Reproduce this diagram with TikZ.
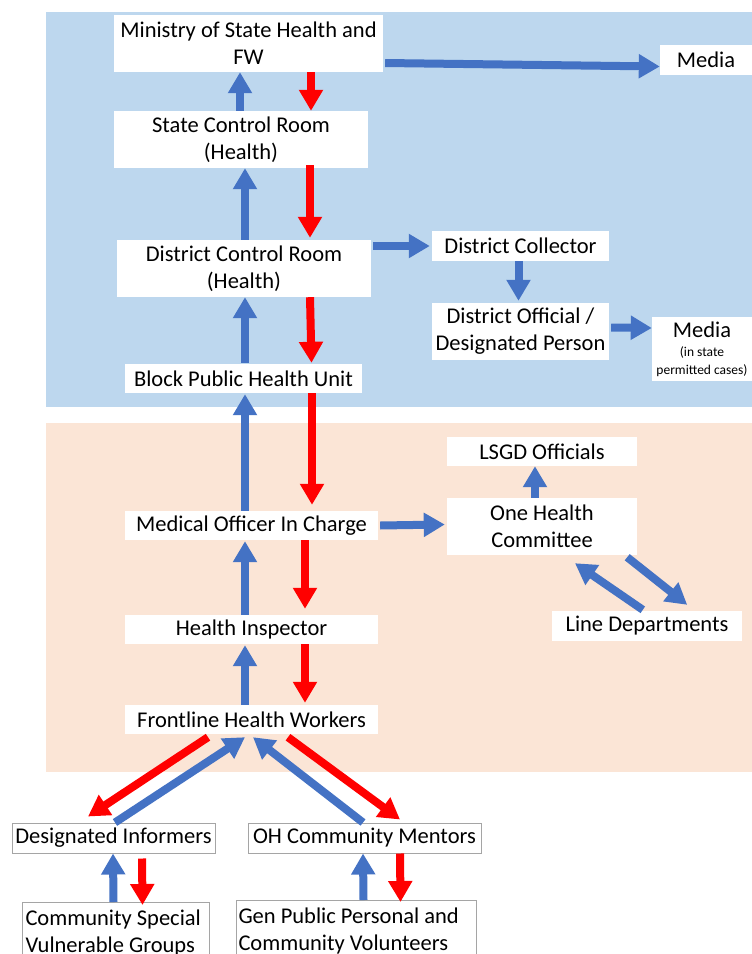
\documentclass[tikz,border=0pt]{standalone}
\usepackage{fontspec}
\setmainfont{Carlito}
\usetikzlibrary{arrows.meta,calc}
\definecolor{bgblue}{RGB}{189,215,238}
\definecolor{bgsalmon}{RGB}{251,229,214}
\definecolor{arrblue}{RGB}{68,114,196}
\definecolor{arrred}{RGB}{255,0,0}
\definecolor{boxgray}{RGB}{165,165,165}
\newcommand{\smalltxt}{\fontsize{13.5}{18}\selectfont}
\begin{document}
\begin{tikzpicture}[x=1pt,y=-1pt,
  box/.style={fill=white,inner sep=0pt,align=center,font=\fontsize{22.5}{27}\selectfont},
  obox/.style={box,draw=boxgray,line width=1pt},
  barr/.style={draw=arrblue,line width=8pt,-{Triangle[width=23pt,length=21pt]}},
  rarr/.style={draw=arrred,line width=8pt,-{Triangle[width=23pt,length=21pt]}}
]
\useasboundingbox[fill=white] (0,0) rectangle (752,954);
% backgrounds
\fill[bgblue] (46,12) rectangle (752,407);
\fill[bgsalmon] (46,423) rectangle (752,772);

% nodes
\node[box,minimum width=269pt,minimum height=57pt] (ministry) at (248.5,43.5) {Ministry of State Health and\\FW};
\node[box,minimum width=92pt,minimum height=30pt] (media1) at (706,59.5) {Media};
\node[box,minimum width=254pt,minimum height=57pt] (state) at (241,139.5) {State Control Room\\(Health)};
\node[box,minimum width=254pt,minimum height=57pt] (dcr) at (244,268.5) {District Control Room\\(Health)};
\node[box,minimum width=177pt,minimum height=30pt] (dcol) at (520.5,246) {District Collector};
\node[box,minimum width=177pt,minimum height=57pt] (doff) at (520.5,331.5) {District Official /\\Designated Person};
\node[box,minimum width=100pt,minimum height=64pt] (media2) at (702,349)
  {Media\\[-8pt]{\smalltxt (in state}\\[-9pt]{\smalltxt permitted cases)}};
\node[box,minimum width=237pt,minimum height=29pt] (block) at (243.5,378.5) {Block Public Health Unit};
\node[box,minimum width=190pt,minimum height=29pt] (lsgd) at (542,451.5) {LSGD Officials};
\node[box,minimum width=190pt,minimum height=57pt] (ohc) at (542,526.5) {One Health\\Committee};
\node[box,minimum width=253pt,minimum height=29pt] (moic) at (251.5,525.5) {Medical Officer In Charge};
\node[box,minimum width=253pt,minimum height=29pt] (hi) at (251.5,629.5) {Health Inspector};
\node[box,minimum width=190pt,minimum height=30pt] (line) at (647,626) {Line Departments};
\node[box,minimum width=253pt,minimum height=29pt] (fhw) at (251.5,719.5) {Frontline Health Workers};
\node[obox,minimum width=203pt,minimum height=30pt] (di) at (113.5,838) {Designated Informers};
\node[obox,minimum width=233pt,minimum height=30pt] (ohm) at (364.5,838) {OH Community Mentors};
\node[obox,minimum width=187pt,minimum height=60pt,align=flush left,text width=181pt,anchor=north west] (csvg) at (22,902) {Community Special\\Vulnerable Groups};
\node[obox,minimum width=240pt,minimum height=60pt,align=flush left,text width=236pt,anchor=north west] (gen) at (236,900) {Gen Public Personal and\\Community Volunteers};

% arrows
\draw[barr] ($(state.north)+(-1,0)$) -- ($(ministry.south)+(-8.5,0)$);
\draw[rarr] ($(ministry.south)+(62.5,0)$) -- ($(state.north)+(70,0)$);
\draw[barr] ($(ministry.east)+(2,19.5)$) -- ($(media1.west)+(0,7)$);
\draw[barr] ($(dcr.north)+(1,0)$) -- ($(state.south)+(4,0)$);
\draw[rarr] ($(state.south)+(69,-3)$) -- ($(dcr.north)+(66,-2)$);
\draw[barr] ($(dcr.east)+(2,-22.5)$) -- ($(dcol.west)+(-2,0)$);
\draw[barr] ($(dcol.south)+(-2,0)$) -- ($(doff.north)+(-2,-2)$);
\draw[barr] ($(doff.east)+(2,-4)$) -- ($(media2.west)+(0,-21)$);
\draw[barr] ($(block.north)+(1.5,-1)$) -- ($(dcr.south)+(1,0)$);
\draw[rarr] ($(dcr.south)+(66,0)$) -- ($(block.north)+(68,-1)$);
\draw[barr] ($(moic.north)+(-6.5,0)$) -- ($(block.south)+(1.5,1)$);
\draw[rarr] ($(block.south)+(68.5,0)$) -- ($(moic.north)+(60.5,-6)$);
\draw[barr] ($(moic.east)+(2,0)$) -- ($(ohc.west)+(-2,-2)$);
\draw[barr] ($(ohc.north)+(-7,0)$) -- ($(lsgd.south)+(-7,0)$);
\draw[barr] ($(ohc.south east)+(-10,2)$) -- ($(line.north east)+(-55,-6)$);
\draw[barr] ($(line.north west)+(91,-1)$) -- ($(ohc.south)+(33,8)$);
\draw[barr] ($(hi.north)+(-6.5,0)$) -- ($(moic.south)+(-6.5,1)$);
\draw[rarr] ($(moic.south)+(53.5,0)$) -- ($(hi.north)+(53.5,-6)$);
\draw[barr] ($(fhw.north)+(-6.5,0)$) -- ($(hi.south)+(-6.5,1)$);
\draw[rarr] ($(hi.south)+(53.5,0)$) -- ($(fhw.north)+(53.5,-2)$);
\draw[rarr] ($(fhw.south)+(-43.5,3)$) -- ($(di.north)+(-25.5,-6)$);
\draw[barr] ($(di.north)+(1.5,0)$) -- ($(fhw.south)+(-6.5,3)$);
\draw[barr] ($(ohm.north)+(-1.5,0)$) -- ($(fhw.south)+(1.5,3)$);
\draw[rarr] ($(fhw.south)+(36.5,3)$) -- ($(ohm.north)+(35.5,-3)$);
\draw[barr] ($(csvg.north)+(-2.5,0)$) -- ($(di.south)+(-0.5,0)$);
\draw[rarr] ($(di.south)+(28.5,5)$) -- ($(csvg.north)+(26.5,3)$);
\draw[barr] ($(gen.north)+(7,0)$) -- ($(ohm.south)+(-1.5,0)$);
\draw[rarr] ($(ohm.south)+(35.5,0)$) -- ($(gen.north)+(44,2)$);
\end{tikzpicture}
\end{document}
